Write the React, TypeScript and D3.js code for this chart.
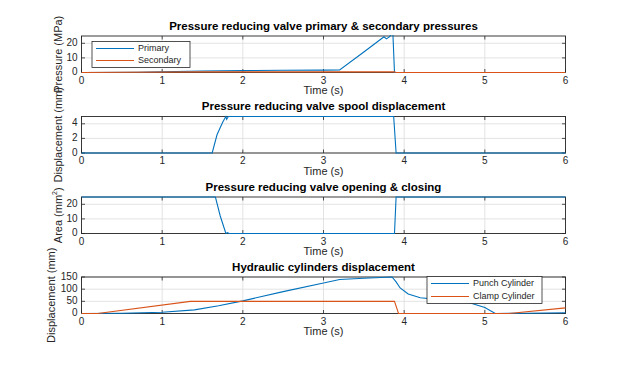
import React from "react";
import * as d3 from "d3";

// time axis
const xTicks = [0, 1, 2, 3, 4, 5, 6];

// pressure reducing valve pressures (MPa)
const primaryT = [0, 0.7, 1.0, 1.5, 2.0, 2.5, 3.0, 3.2, 3.5, 3.75, 3.78, 3.82, 3.85, 3.86, 3.88, 4.0, 6.0];
const primaryV = [0, 0.2, 0.5, 1.0, 1.3, 1.5, 1.6, 1.7, 14, 24.5, 23, 24.5, 27, 27, 0, 0, 0];
const secondaryT = [0, 1.5, 3.88, 3.9, 6];
const secondaryV = [0, 0.4, 0.5, 0, 0];

// spool displacement (mm)
const spoolT = [0, 1.62, 1.68, 1.75, 1.79, 1.8, 1.82, 1.85, 3.87, 3.9, 6];
const spoolV = [0, 0, 2.5, 4.2, 5, 4.6, 5, 5, 5, 0, 0];

// valve opening area (mm^2)
const areaT = [0, 1.66, 1.72, 1.79, 1.81, 1.83, 1.85, 3.88, 3.9, 6];
const areaV = [25, 25, 12, 0, 0.6, 0, 0, 0, 25, 25];

// cylinder displacements (mm)
const punchT = [0, 0.5, 1.0, 1.4, 1.7, 2.0, 2.5, 3.0, 3.2, 3.5, 3.85, 3.9, 3.95, 4.05, 4.2, 4.5, 4.8, 5.0, 5.13, 5.5, 6.0];
const punchV = [0, 1, 5, 15, 32, 52, 90, 125, 140, 145, 150, 130, 105, 80, 65, 55, 45, 25, 0, 1, 3];
const clampT = [0, 0.2, 1.35, 3.88, 3.93, 5.3, 6];
const clampV = [0, 0, 50, 50, 0, 0, 23];

const BLUE = "#0072BD";
const ORANGE = "#D95319";
const AX = "#262626";
const FONT = "'Liberation Sans', Arial, Helvetica, sans-serif";

const left = 81.5;
const right = 565.5;
const plotH = 36.5;

type Series = { t: number[]; v: number[]; color: string; name: string };

const panels = [
  {
    top: 36,
    title: "Pressure reducing valve primary & secondary pressures",
    ylabel: "Pressure (MPa)",
    ylx: 59,
    yMax: 25,
    yTicks: [0, 10, 20],
    series: [
      { t: primaryT, v: primaryV, color: BLUE, name: "Primary" },
      { t: secondaryT, v: secondaryV, color: ORANGE, name: "Secondary" },
    ] as Series[],
    legend: { x: 92, y: 41.5, w: 98, h: 26 },
  },
  {
    top: 116.5,
    title: "Pressure reducing valve spool displacement",
    ylabel: "Displacement (mm)",
    ylx: 59,
    yMax: 5,
    yTicks: [0, 2, 4],
    series: [{ t: spoolT, v: spoolV, color: BLUE, name: "" }] as Series[],
    legend: null,
  },
  {
    top: 197,
    title: "Pressure reducing valve opening & closing",
    ylabel: "area",
    ylx: 59,
    yMax: 25,
    yTicks: [0, 10, 20],
    series: [{ t: areaT, v: areaV, color: BLUE, name: "" }] as Series[],
    legend: null,
  },
  {
    top: 277,
    title: "Hydraulic cylinders displacement",
    ylabel: "Displacement (mm)",
    ylx: 52,
    yMax: 150,
    yTicks: [0, 50, 100, 150],
    series: [
      { t: punchT, v: punchV, color: BLUE, name: "Punch Cylinder" },
      { t: clampT, v: clampV, color: ORANGE, name: "Clamp Cylinder" },
    ] as Series[],
    legend: { x: 427, y: 276.5, w: 115, h: 27 },
  },
];

const x = d3.scaleLinear().domain([0, 6]).range([left, right]);

function Panel({ p, i }: { p: (typeof panels)[number]; i: number }) {
  const y = d3.scaleLinear().domain([0, p.yMax]).range([p.top + plotH, p.top]);
  const bottom = p.top + plotH;
  const path = (s: Series) =>
    d3
      .line<[number, number]>()
      .x((d) => x(d[0]))
      .y((d) => y(d[1]))(s.t.map((t, k) => [t, s.v[k]] as [number, number]));
  const tl = 3.5;
  const cy = p.top + plotH / 2;
  return (
    <g>
      <defs>
        <clipPath id={`clip${i}`}>
          <rect x={left - 1} y={p.top - 1} width={right - left + 2} height={plotH + 2} />
        </clipPath>
      </defs>
      <rect x={left} y={p.top} width={right - left} height={plotH} fill="#fff" />
      {xTicks.map((t) => (
        <line key={"gx" + t} x1={x(t)} x2={x(t)} y1={p.top} y2={bottom} stroke="#dcdcdc" strokeWidth={0.8} />
      ))}
      {p.yTicks.map((t) => (
        <line key={"gy" + t} x1={left} x2={right} y1={y(t)} y2={y(t)} stroke="#dcdcdc" strokeWidth={0.8} />
      ))}
      {xTicks.map((t) => (
        <g key={"tx" + t}>
          <line x1={x(t)} x2={x(t)} y1={bottom} y2={bottom - tl} stroke={AX} strokeWidth={0.8} />
          <line x1={x(t)} x2={x(t)} y1={p.top} y2={p.top + tl} stroke={AX} strokeWidth={0.8} />
          <text x={x(t)} y={bottom + 8.5} textAnchor="middle" dominantBaseline="middle" fontSize={10} fill={AX}>
            {t}
          </text>
        </g>
      ))}
      {p.yTicks.map((t) => (
        <g key={"ty" + t}>
          <line x1={left} x2={left + tl} y1={y(t)} y2={y(t)} stroke={AX} strokeWidth={0.8} />
          <line x1={right} x2={right - tl} y1={y(t)} y2={y(t)} stroke={AX} strokeWidth={0.8} />
          <text x={left - 4} y={y(t)} textAnchor="end" dominantBaseline="middle" fontSize={10} fill={AX}>
            {t}
          </text>
        </g>
      ))}
      <rect x={left} y={p.top} width={right - left} height={plotH} fill="none" stroke={AX} strokeWidth={0.9} />
      <g clipPath={`url(#clip${i})`}>
        {p.series.map((s, k) => (
          <path key={k} d={path(s) || ""} fill="none" stroke={s.color} strokeWidth={1.1} />
        ))}
      </g>
      <text x={(left + right) / 2} y={p.top - 9.5} textAnchor="middle" dominantBaseline="middle" fontSize={11.5} fontWeight="bold" fill="#000">
        {p.title}
      </text>
      <text x={(left + right) / 2} y={bottom + 19} textAnchor="middle" dominantBaseline="middle" fontSize={11} fill={AX}>
        Time (s)
      </text>
      <text
        transform={`translate(${p.ylx},${cy}) rotate(-90)`}
        textAnchor="middle"
        dominantBaseline="middle"
        fontSize={11}
        fill={AX}
      >
        {p.ylabel === "area" ? (
          <>
            Area  (mm<tspan fontSize={7} dy={-4}>2</tspan>
            <tspan dy={4}>)</tspan>
          </>
        ) : (
          p.ylabel
        )}
      </text>
      {p.legend && (
        <g>
          <rect x={p.legend.x} y={p.legend.y} width={p.legend.w} height={p.legend.h} fill="#fff" stroke={AX} strokeWidth={0.8} />
          {p.series.map((s, k) => {
            const ly = p.legend!.y + 7 + k * (p.legend!.h - 14);
            return (
              <g key={k}>
                <line x1={p.legend!.x + 4} x2={p.legend!.x + 42} y1={ly} y2={ly} stroke={s.color} strokeWidth={1.1} />
                <text x={p.legend!.x + 46} y={ly} dominantBaseline="middle" fontSize={9} fill={AX}>
                  {s.name}
                </text>
              </g>
            );
          })}
        </g>
      )}
    </g>
  );
}

export default function App() {
  return (
    <svg width={625} height={367} style={{ display: "block", position: "absolute", left: 0, top: 0 }} fontFamily={FONT}>
      <rect width={625} height={367} fill="#fff" />
      {panels.map((p, i) => (
        <Panel key={i} p={p} i={i} />
      ))}
    </svg>
  );
}
